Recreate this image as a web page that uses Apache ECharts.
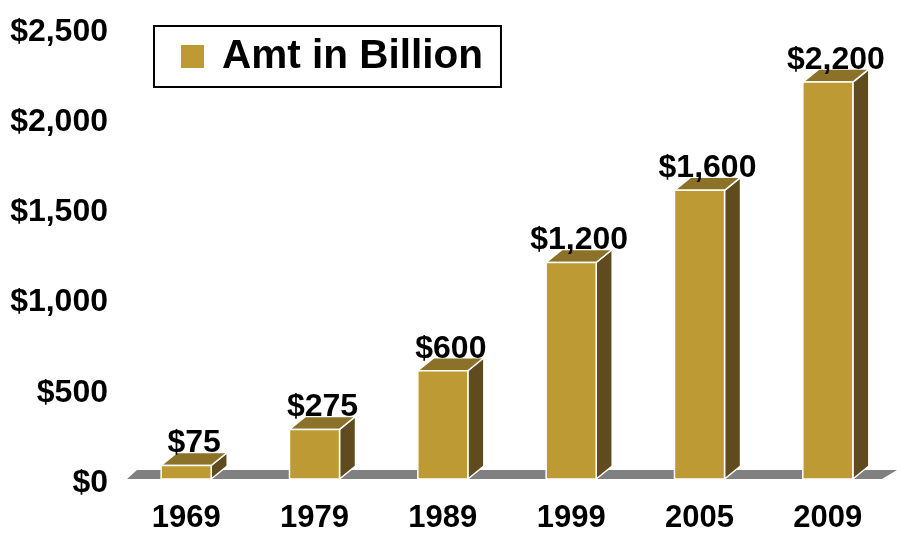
<!DOCTYPE html>
<html>
<head>
<meta charset="utf-8">
<script src="https://cdn.jsdelivr.net/npm/echarts@6/dist/echarts.min.js"></script>
<style>html,body{margin:0;padding:0;background:#fff}#c{width:897px;height:536px}</style>
</head>
<body>
<div id="c"></div>
<script>
var categories = ['1969', '1979', '1989', '1999', '2005', '2009'];
var amounts = [75, 275, 600, 1200, 1600, 2200];
var seriesName = 'Amt in Billion';
var yTicks = [0, 500, 1000, 1500, 2000, 2500];

var FONT = '"Liberation Sans", Arial, sans-serif';
var FRONT = '#BE9A34', TOP = '#8C7229', SIDE = '#5F4B1D', FLOOR = '#808080';
var DX = 16, DY = 13;

function fmt(v) { return '$' + v.toLocaleString('en-US'); }

var chart = echarts.init(document.getElementById('c'), null, {renderer: 'canvas'});
chart.setOption({
  animation: false,
  backgroundColor: '#fff',
  grid: {left: 122, right: 5, top: 28, bottom: 57},
  legend: {
    data: [{name: seriesName, icon: 'rect', itemStyle: {color: FRONT}}],
    left: 154, top: 26,
    width: 348,
    borderColor: '#000', borderWidth: 2,
    padding: [10, 18, 10, 27],
    itemWidth: 23, itemHeight: 23,
    textStyle: {fontSize: 40.5, fontWeight: 'bold', color: '#000', fontFamily: FONT, padding: [0, 0, 0, 13], lineHeight: 40},
    selectedMode: false
  },
  xAxis: {
    type: 'category', data: categories,
    axisLine: {show: false}, axisTick: {show: false},
    axisLabel: {fontSize: 31, fontWeight: 'bold', color: '#000', fontFamily: FONT, margin: 24}
  },
  yAxis: {
    type: 'value', min: yTicks[0], max: yTicks[yTicks.length - 1], interval: yTicks[1] - yTicks[0],
    splitLine: {show: false}, axisLine: {show: false}, axisTick: {show: false},
    axisLabel: {color: '#000', margin: 14, align: 'right',
      formatter: function (v) { return '{s| }\n{v|' + fmt(v) + '}'; },
      rich: {
        s: {height: 8, lineHeight: 8, fontSize: 1},
        v: {fontSize: 32, fontWeight: 'bold', color: '#000', fontFamily: FONT, lineHeight: 34, align: 'right'}
      }
    }
  },
  series: [
    {
      name: 'floor', type: 'custom', silent: true, z: 1,
      data: [[0, 0]],
      renderItem: function (params, api) {
        var cs = params.coordSys;
        var p = api.coord([0, 0]);
        var y0 = p[1];
        return {
          type: 'polygon',
          shape: {points: [[cs.x + 5, y0], [cs.x + 15, y0 - 9], [cs.x + cs.width + 5, y0 - 9], [cs.x + cs.width - 10, y0]]},
          style: {fill: FLOOR}
        };
      }
    },
    {
      name: seriesName, type: 'custom', z: 2,
      itemStyle: {color: FRONT},
      data: amounts.map(function (v, i) { return [i, v]; }),
      encode: {x: 0, y: 1},
      renderItem: function (params, api) {
        var idx = api.value(0), val = api.value(1);
        var b = api.coord([idx, 0]);
        var t = api.coord([idx, val]);
        var bw = api.size([1, 0])[0] * 0.39;
        var x0 = b[0] - bw / 2, x1 = b[0] + bw / 2;
        var yb = b[1], yt = t[1];
        var edge = {stroke: '#fff', lineWidth: 1.5, lineJoin: 'round'};
        return {
          type: 'group',
          children: [
            {type: 'polygon', shape: {points: [[x1, yt], [x1 + DX, yt - DY], [x1 + DX, yb - DY], [x1, yb]]},
              style: Object.assign({fill: SIDE}, edge)},
            {type: 'polygon', shape: {points: [[x0, yt], [x0 + DX, yt - DY], [x1 + DX, yt - DY], [x1, yt]]},
              style: Object.assign({fill: TOP}, edge)},
            {type: 'rect', shape: {x: x0, y: yt, width: bw, height: yb - yt},
              style: Object.assign({fill: FRONT}, edge)},
            {type: 'text', style: {
              x: b[0] + DX / 2, y: yt - DY + 7,
              text: fmt(val), align: 'center', verticalAlign: 'bottom',
              font: 'bold 32px ' + FONT, fill: '#000'
            }}
          ]
        };
      }
    }
  ]
});
</script>
</body>
</html>
